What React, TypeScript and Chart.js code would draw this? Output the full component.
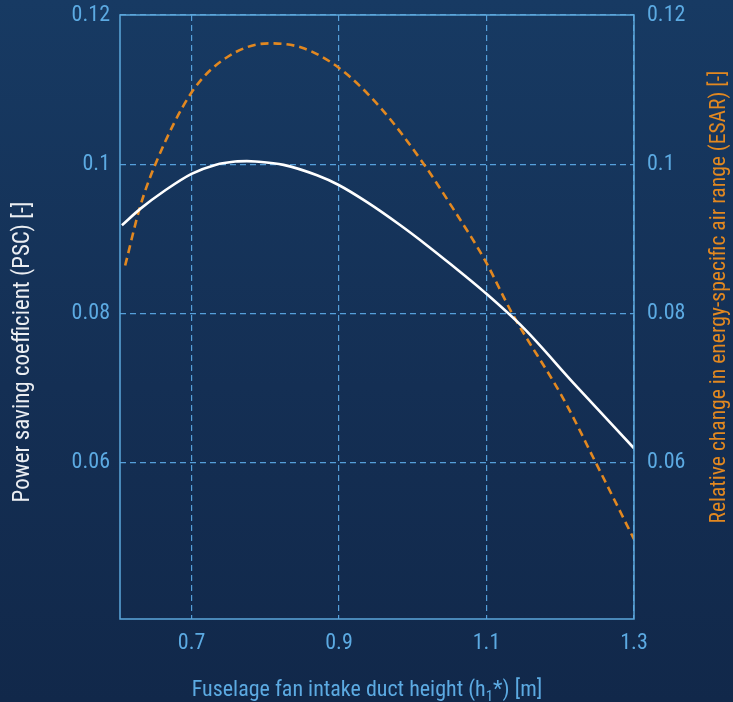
import React, { useEffect, useRef } from "react";
import { Chart, registerables } from "chart.js";

Chart.register(...registerables);

// Power saving coefficient (white, left axis)
const pscX = [0.6056, 0.6304, 0.6644, 0.7, 0.7322, 0.7593, 0.775, 0.7864, 0.8248, 0.8702, 0.8995, 0.938, 0.9832, 1.0194, 1.0511, 1.0976, 1.1505, 1.2183, 1.3];
const pscY = [0.0918, 0.094, 0.0965, 0.0987, 0.0999, 0.10035, 0.1004, 0.10035, 0.0999, 0.0985, 0.0972, 0.0949, 0.0918, 0.0891, 0.0866, 0.0828, 0.078, 0.0706, 0.0619];

// Relative change in ESAR (orange dashed, right axis)
const esarX = [0.61, 0.63, 0.651, 0.7, 0.746, 0.805, 0.85, 0.9, 0.956, 1.015, 1.053, 1.098, 1.1347, 1.205, 1.248, 1.3];
const esarY = [0.0864, 0.0942, 0.1, 0.1096, 0.1142, 0.1162, 0.1156, 0.1129, 0.1076, 0.1, 0.0943, 0.0871, 0.08, 0.0684, 0.06, 0.0497];

const xTicks = [0.7, 0.9, 1.1, 1.3];
const yTicks = [0.06, 0.08, 0.1, 0.12];

const xTitleMain = "Fuselage fan intake duct height (h";
const xTitleSub = "1";
const xTitleEnd = "*) [m]";
const yTitle = "Power saving coefficient (PSC) [-]";
const y2Title = "Relative change in energy-specific air range (ESAR) [-]";

const FONT = '"Liberation Sans Narrow", "Arial Narrow", "Roboto Condensed", "Liberation Sans", Arial, sans-serif';
const TICK_COLOR = "rgb(92,170,226)";
const GRID_COLOR = "rgba(88,165,225,0.95)";
const BORDER_COLOR = "rgb(92,168,220)";
const ORANGE = "rgb(226,136,32)";

const titlesPlugin = {
  id: "customTitles",
  afterDraw(chart: any) {
    const ctx = chart.ctx as CanvasRenderingContext2D;
    const area = chart.chartArea;
    ctx.save();
    // frame
    ctx.strokeStyle = BORDER_COLOR;
    ctx.lineWidth = 1.5;
    ctx.setLineDash([]);
    ctx.strokeRect(area.left, area.top, area.right - area.left, area.bottom - area.top);

    ctx.textAlign = "center";
    ctx.textBaseline = "middle";

    // left title
    ctx.save();
    ctx.font = `23px ${FONT}`;
    ctx.translate(23, 352);
    ctx.rotate(-Math.PI / 2);
    ctx.fillStyle = "rgb(235,238,242)";
    ctx.fillText(yTitle, 0, 0);
    ctx.restore();

    // right title
    ctx.save();
    ctx.font = `21.6px ${FONT}`;
    ctx.translate(720, 297);
    ctx.rotate(-Math.PI / 2);
    ctx.fillStyle = ORANGE;
    ctx.fillText(y2Title, 0, 0);
    ctx.restore();

    // bottom title with subscript
    const mainFont = `22px ${FONT}`;
    const subFont = `15px ${FONT}`;
    ctx.font = mainFont;
    const w1 = ctx.measureText(xTitleMain).width;
    const w3 = ctx.measureText(xTitleEnd).width;
    ctx.font = subFont;
    const w2 = ctx.measureText(xTitleSub).width;
    const total = w1 + w2 + w3;
    let x = 367 - total / 2;
    const y = 690;
    ctx.textAlign = "left";
    ctx.fillStyle = TICK_COLOR;
    ctx.font = mainFont;
    ctx.fillText(xTitleMain, x, y);
    x += w1;
    ctx.font = subFont;
    ctx.fillText(xTitleSub, x, y + 7);
    x += w2;
    ctx.font = mainFont;
    ctx.fillText(xTitleEnd, x, y);
    ctx.restore();
  },
};

export default function App() {
  const canvasRef = useRef<HTMLCanvasElement | null>(null);

  useEffect(() => {
    const canvas = canvasRef.current;
    if (!canvas) return;
    const psc = pscX.map((x, i) => ({ x, y: pscY[i] }));
    const esar = esarX.map((x, i) => ({ x, y: esarY[i] }));
    const tickFont = { family: FONT, size: 22 };

    const chart = new Chart(canvas, {
      type: "line",
      data: {
        datasets: [
          {
            label: "PSC",
            data: psc,
            yAxisID: "y",
            borderColor: "#ffffff",
            borderWidth: 2.6,
            pointRadius: 0,
            fill: false,
            cubicInterpolationMode: "monotone",
          },
          {
            label: "ESAR",
            data: esar,
            yAxisID: "y2",
            borderColor: ORANGE,
            borderWidth: 2.6,
            borderDash: [8, 5],
            pointRadius: 0,
            fill: false,
            cubicInterpolationMode: "monotone",
          },
        ],
      },
      options: {
        animation: false,
        responsive: false,
        maintainAspectRatio: false,
        layout: { padding: { top: 15, left: 0, right: 0, bottom: 0 } },
        plugins: {
          legend: { display: false },
          tooltip: { enabled: false },
        },
        scales: {
          x: {
            type: "linear",
            min: 0.603,
            max: 1.3,
            afterBuildTicks: (s: any) => {
              s.ticks = xTicks.map((v) => ({ value: v }));
            },
            afterFit: (s: any) => {
              s.height = 83;
              s.paddingLeft = 0;
              s.paddingRight = 0;
            },
            ticks: {
              color: TICK_COLOR,
              font: tickFont,
              padding: 11,
              maxRotation: 0,
              callback: (v: any) => String(v),
            },
            grid: {
              color: GRID_COLOR,
              lineWidth: 1.2,
              drawTicks: false,
            },
            border: { display: false, dash: [6, 4] },
          },
          y: {
            type: "linear",
            position: "left",
            min: 0.039,
            max: 0.12,
            afterBuildTicks: (s: any) => {
              s.ticks = yTicks.map((v) => ({ value: v }));
            },
            afterFit: (s: any) => {
              s.width = 120;
              s.paddingTop = 0;
              s.paddingBottom = 0;
            },
            ticks: {
              color: TICK_COLOR,
              font: tickFont,
              padding: 10,
              callback: (v: any) => String(v),
            },
            grid: {
              color: GRID_COLOR,
              lineWidth: 1.2,
              drawTicks: false,
            },
            border: { display: false, dash: [6, 4] },
          },
          y2: {
            type: "linear",
            position: "right",
            min: 0.039,
            max: 0.12,
            afterBuildTicks: (s: any) => {
              s.ticks = yTicks.map((v) => ({ value: v }));
            },
            afterFit: (s: any) => {
              s.width = 99;
              s.paddingTop = 0;
              s.paddingBottom = 0;
            },
            ticks: {
              color: TICK_COLOR,
              font: tickFont,
              padding: 13,
              callback: (v: any) => String(v),
            },
            grid: { display: false, drawTicks: false },
            border: { display: false },
          },
        },
      },
      plugins: [titlesPlugin],
    } as any);

    return () => chart.destroy();
  }, []);

  return (
    <div
      style={{
        position: "fixed",
        left: 0,
        top: 0,
        width: 733,
        height: 702,
        background: "linear-gradient(180deg, #173a63 0%, #142f54 55%, #11284a 100%)",
      }}
    >
      <canvas ref={canvasRef} width={733} height={702} style={{ display: "block", width: 733, height: 702 }} />
    </div>
  );
}
